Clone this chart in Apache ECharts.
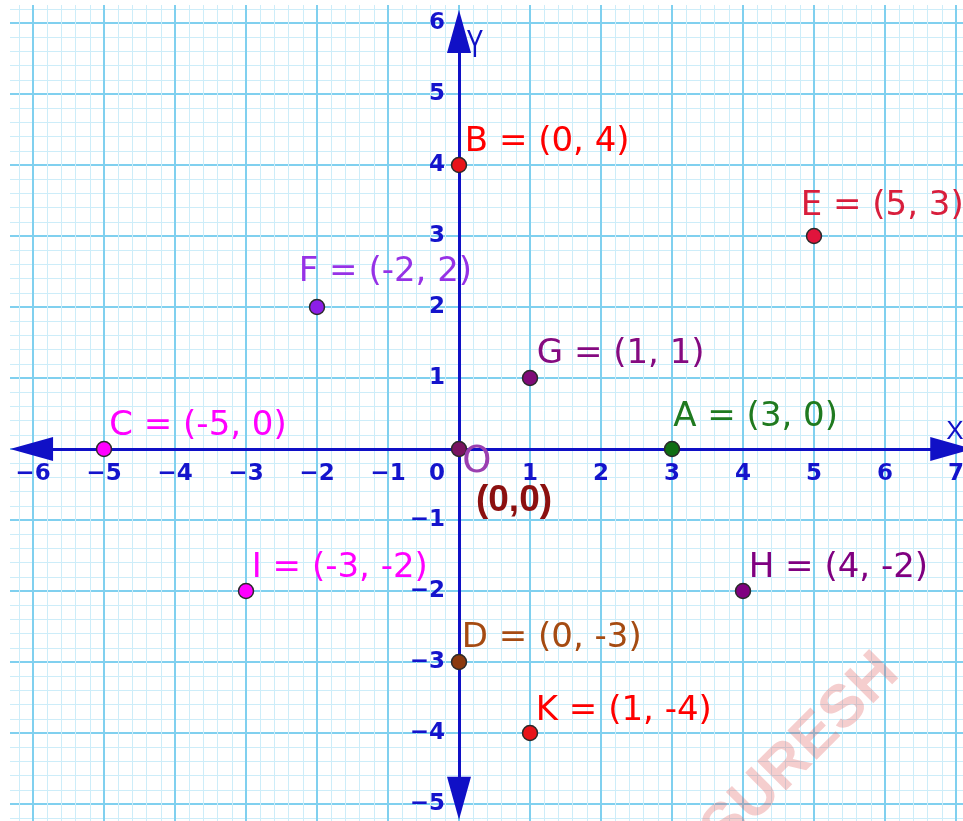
<!DOCTYPE html>
<html>
<head>
<meta charset="utf-8">
<title>Coordinate plane</title>
<script src="https://cdn.jsdelivr.net/npm/echarts@6/dist/echarts.min.js"></script>
<style>
  html, body { margin: 0; padding: 0; background: #fff; }
  #chart { width: 963px; height: 821px; }
</style>
</head>
<body>
<div id="chart"></div>
<script>
// plotted points
const pointNames = ['A', 'B', 'C', 'D', 'E', 'F', 'G', 'H', 'I', 'K', 'O'];
const pointX = [3, 0, -5, 0, 5, -2, 1, 4, -3, 1, 0];
const pointY = [0, 4, 0, -3, 3, 2, 1, -2, -2, -4, 0];

// axis ranges (integer so the ticks land on whole units)
const xRange = [-7, 8];
const yRange = [-6, 7];
// where the arrow heads of the two axes sit
const xArrowEnds = [-6.02, 6.94];
const yArrowEnds = [5.88, -4.92];

const axisBlue = '#1010c6';
const tickBlue = '#1414cc';
const majorGrid = '#80d0ef';
const minorGrid = '#cdedf9';

// colours and label offsets for each point
const pointStyle = {
  A: { fill: '#0f6e12', text: '#1f7a1f', pos: [9.5, -23.5] },
  B: { fill: '#e8141a', text: '#ff0000', pos: [14, -14.5] },
  C: { fill: '#ff00ff', text: '#ff00ff', pos: [13.5, -14.5] },
  D: { fill: '#8b3a0e', text: '#a54b12', pos: [11, -16] },
  E: { fill: '#e0143c', text: '#d81e3c', pos: [-5, -21.5] },
  F: { fill: '#8c1ee8', text: '#9632e6', pos: [-10, -27] },
  G: { fill: '#800a78', text: '#850a80', pos: [15, -15.5] },
  H: { fill: '#800080', text: '#800080', pos: [14, -14.5] },
  I: { fill: '#ff00ff', text: '#ff00ff', pos: [14, -15] },
  K: { fill: '#e8141a', text: '#ff0000', pos: [14, -14] },
  O: { fill: '#7a1461', text: '#9a3fb0', pos: [11.5, 22] }
};

const chart = echarts.init(document.getElementById('chart'));

const items = pointNames.map((n, i) => {
  const s = pointStyle[n];
  const label = { position: s.pos, color: s.text };
  if (n === 'O') label.fontSize = 37;
  return {
    name: n,
    value: [pointX[i], pointY[i]],
    itemStyle: { color: s.fill },
    label: label
  };
});
const originIdx = pointNames.indexOf('O');

const fmtTick = v => String(v).replace('-', '\u2212');

// grid box: one unit = 71px, origin at (459, 449)
const gridLeft = -38, gridTop = -48, gridW = 1065, gridH = 923;

const tickFont = { color: tickBlue, fontFamily: 'DejaVu Sans', fontWeight: 'bold', fontSize: 23 };

const option = {
  animation: false,
  backgroundColor: '#fff',
  grid: {
    left: gridLeft, top: gridTop, width: gridW, height: gridH,
    containLabel: false, outerBoundsMode: 'none'
  },
  xAxis: {
    type: 'value', min: xRange[0], max: xRange[1], interval: 1,
    position: 'bottom',
    offset: -(gridTop + gridH - 449),
    axisLine: { show: false, onZero: false },
    axisTick: { show: false },
    axisLabel: Object.assign({
      show: true, margin: 14,
      formatter: v => v === 0 ? '{z|0}' : fmtTick(v),
      rich: { z: Object.assign({ padding: [0, 44, 0, 0] }, tickFont) }
    }, tickFont),
    splitLine: { show: true, lineStyle: { color: majorGrid, width: 2 } },
    minorTick: { show: false, splitNumber: 5 },
    minorSplitLine: { show: true, lineStyle: { color: minorGrid, width: 1 } }
  },
  yAxis: {
    type: 'value', min: yRange[0], max: yRange[1], interval: 1,
    position: 'left',
    offset: -(459 - gridLeft),
    axisLine: { show: false, onZero: false },
    axisTick: { show: false },
    axisLabel: Object.assign({
      show: true, margin: 14,
      formatter: v => v === 0 ? '' : fmtTick(v)
    }, tickFont),
    splitLine: { show: true, lineStyle: { color: majorGrid, width: 2 } },
    minorTick: { show: false, splitNumber: 5 },
    minorSplitLine: { show: true, lineStyle: { color: minorGrid, width: 1 } }
  },
  series: [
    {
      type: 'scatter',
      z: 3,
      symbolSize: 15,
      itemStyle: { borderColor: '#2a2a2a', borderWidth: 1.5, opacity: 1 },
      label: {
        show: true, fontFamily: 'DejaVu Sans', fontSize: 34,
        align: 'left', verticalAlign: 'middle',
        formatter: p => p.name === 'O' ? 'O' : p.name + ' = (' + p.value[0] + ', ' + p.value[1] + ')'
      },
      emphasis: { disabled: true },
      data: items,
      markLine: {
        silent: true,
        z: 1,
        symbol: ['path://M12 0 L24 43 L0 43 Z', 'path://M12 0 L24 43 L0 43 Z'],
        symbolSize: 43,
        symbolKeepAspect: true,
        label: { show: false },
        emphasis: { disabled: true },
        lineStyle: { color: axisBlue, width: 3, type: 'solid', opacity: 1 },
        data: [
          [{ coord: [xArrowEnds[0], 0] }, { coord: [xArrowEnds[1], 0] }],
          [{ coord: [0, yArrowEnds[0]] }, { coord: [0, yArrowEnds[1]] }]
        ]
      }
    },
    {
      // coordinate caption under the origin
      type: 'scatter',
      z: 4,
      symbolSize: 15,
      itemStyle: { color: 'rgba(0,0,0,0)', opacity: 1 },
      label: {
        show: true, position: [62.5, 59.5], align: 'center', verticalAlign: 'middle',
        fontFamily: 'Liberation Sans', fontWeight: 'bold', fontSize: 37, color: '#8b1010',
        formatter: p => '(' + p.value[0] + ',' + p.value[1] + ')'
      },
      emphasis: { disabled: true },
      silent: true,
      data: [[pointX[originIdx], pointY[originIdx]]]
    }
  ],
  graphic: [
    { type: 'rect', shape: { x: 0, y: 0, width: 10, height: 821 }, style: { fill: '#fff' }, z: 100, silent: true },
    { type: 'rect', shape: { x: 0, y: 0, width: 963, height: 5 }, style: { fill: '#fff' }, z: 100, silent: true },
    // axis names
    {
      type: 'text', x: 475, y: 46, scaleX: 0.9, scaleY: 1.4, z: 60, silent: true,
      style: { text: 'Y', font: '28px "Liberation Sans"', fill: axisBlue, align: 'center', verticalAlign: 'middle' }
    },
    {
      type: 'text', x: 955, y: 432, z: 60, silent: true,
      style: { text: 'X', font: '26px "Liberation Sans"', fill: axisBlue, align: 'center', verticalAlign: 'middle' }
    },
    {
      type: 'text', x: 801, y: 752, rotation: Math.PI / 4, z: 50, silent: true,
      style: {
        text: 'SURESH', font: 'bold 60px "Liberation Sans"',
        fill: 'rgba(220, 80, 80, 0.28)', align: 'center', verticalAlign: 'middle'
      }
    }
  ]
};

chart.setOption(option);
</script>
</body>
</html>
